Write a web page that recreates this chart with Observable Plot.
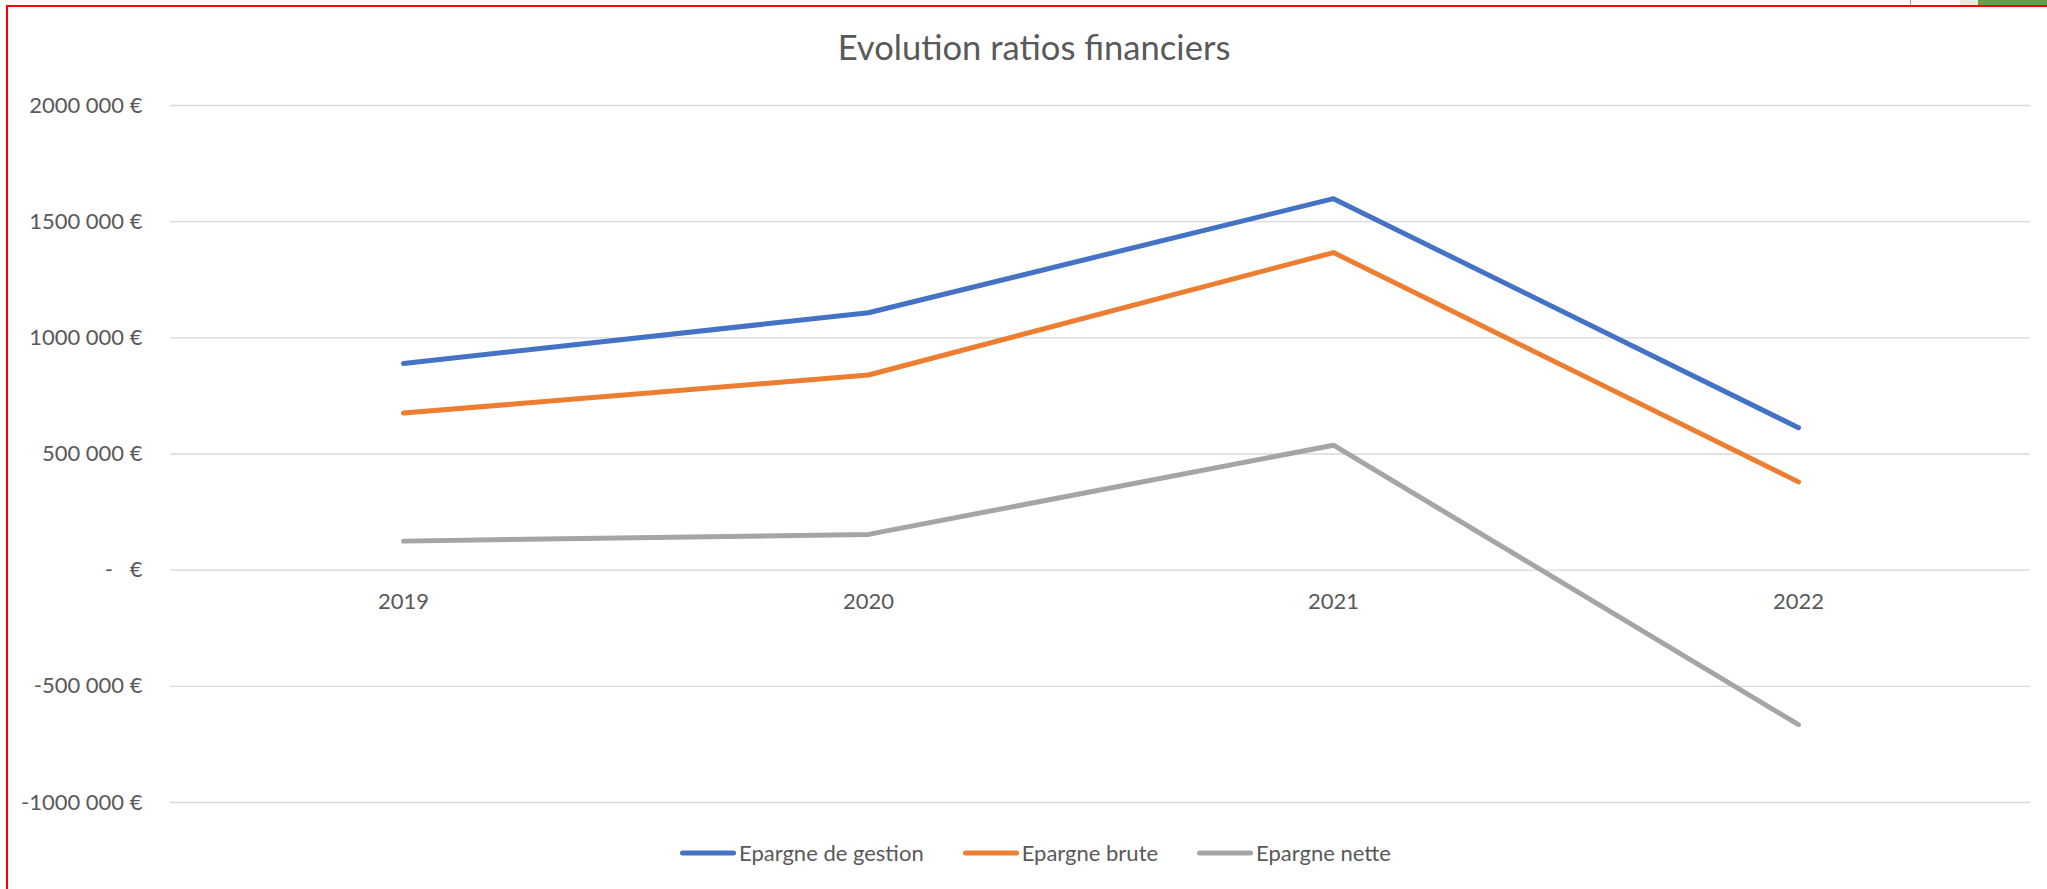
<!DOCTYPE html>
<html>
<head>
<meta charset="utf-8">
<script src="https://cdn.jsdelivr.net/npm/d3@7"></script>
<script src="https://cdn.jsdelivr.net/npm/@observablehq/plot@0.6"></script>
<style>
  html, body { margin: 0; padding: 0; background: #fff; overflow: hidden; }
  #page { position: relative; width: 2047px; height: 889px; font-family: Lato, "Open Sans", sans-serif; color: #595959; }
  #title { height: 80px; box-sizing: border-box; padding-top: 26px; padding-left: 21px; text-align: center; font-size: 34.6px; line-height: 1.2; color: #595959; white-space: nowrap; }
  #chart svg text { white-space: pre; }
  #legend { display: flex; align-items: center; margin-left: 680px; margin-top: 20px; font-size: 22px; line-height: 1.2; color: #595959; }
  .item { display: flex; align-items: center; margin-right: 39px; }
  .item svg { display: block; margin-right: 3px; }
  #border { position: absolute; left: 6px; top: 5px; width: 3000px; height: 1000px; border-left: 2px solid #ff0000; border-top: 2px solid #ff0000; pointer-events: none; z-index: 10; }
  .deco { position: absolute; top: 0; height: 5px; }
</style>
</head>
<body>
<div id="page">
  <div id="title">Evolution ratios financiers</div>
  <div id="chart"></div>
  <div id="legend"></div>
  <div id="border"></div>
  <div class="deco" style="left:1910px;width:1px;background:#a0a0a0;"></div>
  <div class="deco" style="left:1960px;width:18px;background:#e2efda;"></div>
  <div class="deco" style="left:1978px;width:69px;background:#6a9a4a;"></div>
</div>
<script>
// ---- data ----
const years = ["2019", "2020", "2021", "2022"];
const seriesNames = ["Epargne de gestion", "Epargne brute", "Epargne nette"];
const epargneGestion = [890000, 1108000, 1599000, 613000];
const epargneBrute = [676000, 840000, 1367000, 380000];
const epargneNette = [125000, 154000, 538000, -665000];
const seriesColors = ["#4472C4", "#ED7D31", "#A5A5A5"];
const yTickValues = [-1000000, -500000, 0, 500000, 1000000, 1500000, 2000000];
const yTickLabels = ["-1000 000 €", "-500 000 €", "-   €", "500 000 €", "1000 000 €", "1500 000 €", "2000 000 €"];

// ---- build table ----
const seriesValues = [epargneGestion, epargneBrute, epargneNette];
const rows = [];
seriesNames.forEach((name, s) => {
  years.forEach((yr, i) => rows.push({series: name, year: yr, value: seriesValues[s][i]}));
});
const tickLabelMap = new Map(yTickValues.map((v, i) => [v, yTickLabels[i]]));

const chart = Plot.plot({
  width: 2047,
  height: 740,
  marginTop: 25,
  marginBottom: 18,
  marginLeft: 170,
  marginRight: 17,
  style: {fontFamily: "Lato, 'Open Sans', sans-serif", fontSize: "22px", color: "#595959", background: "transparent", overflow: "visible"},
  x: {type: "point", domain: years, padding: 0.5, axis: null},
  y: {domain: [-1000000, 2000000], axis: null},
  color: {domain: seriesNames, range: seriesColors},
  marks: [
    Plot.ruleY(yTickValues, {stroke: "#D9D9D9", strokeWidth: 1.3}),
    Plot.axisY({ticks: yTickValues, tickFormat: d => tickLabelMap.get(d), tickSize: 0, tickPadding: 28, fontSize: 22, fill: "#595959", label: null}),
    Plot.text(years, {x: d => d, y: d => 0, dy: 31.5, fontSize: 22, fill: "#595959"}),
    Plot.line(rows, {x: "year", y: "value", z: "series", stroke: "series", strokeWidth: 5, strokeLinecap: "round", strokeLinejoin: "miter"})
  ]
});
document.getElementById("chart").appendChild(chart);

// ---- legend ----
const legend = document.getElementById("legend");
seriesNames.forEach((name, i) => {
  const item = document.createElement("div");
  item.className = "item";
  item.innerHTML = `<svg width="56" height="10"><line x1="2.5" y1="5" x2="53.5" y2="5" stroke="${seriesColors[i]}" stroke-width="5" stroke-linecap="round"/></svg><span>${name}</span>`;
  legend.appendChild(item);
});
</script>
</body>
</html>
